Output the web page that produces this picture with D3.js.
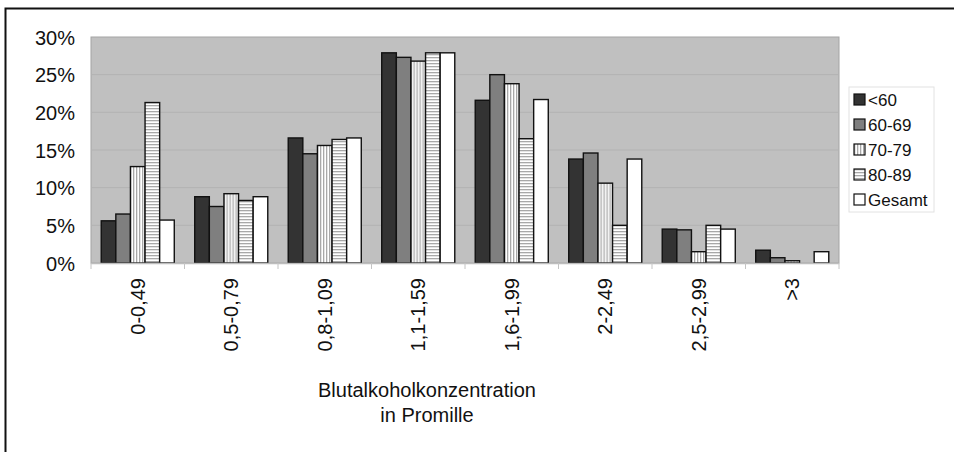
<!DOCTYPE html>
<html>
<head>
<meta charset="utf-8">
<script src="https://cdn.jsdelivr.net/npm/d3@7/dist/d3.min.js"></script>
<style>
  html, body { margin: 0; padding: 0; background: #fff; overflow: hidden; }
  svg { display: block; font-family: "Liberation Sans", Arial, Helvetica, sans-serif; }
</style>
</head>
<body>
<svg id="chart" width="954" height="452"></svg>
<script>
// Blood alcohol concentration classes (per mille)
const categories = ["0-0,49", "0,5-0,79", "0,8-1,09", "1,1-1,59", "1,6-1,99", "2-2,49", "2,5-2,99", ">3"];
// Age groups
const seriesNames = ["<60", "60-69", "70-79", "80-89", "Gesamt"];
// Share of cases per class, in percent
const under60  = [5.6, 8.8, 16.6, 27.9, 21.6, 13.8, 4.5, 1.7];
const age60_69 = [6.5, 7.5, 14.5, 27.3, 25.0, 14.6, 4.4, 0.7];
const age70_79 = [12.8, 9.2, 15.6, 26.8, 23.8, 10.6, 1.5, 0.3];
const age80_89 = [21.3, 8.3, 16.4, 27.9, 16.5, 5.0, 5.0, 0.0];
const gesamt   = [5.7, 8.8, 16.6, 27.9, 21.7, 13.8, 4.5, 1.5];
const yTicks = [0, 5, 10, 15, 20, 25, 30];

const seriesValues = [under60, age60_69, age70_79, age80_89, gesamt];
const data = categories.map((c, i) => ({
  cat: c,
  values: seriesNames.map((s, j) => ({ key: s, idx: j, value: seriesValues[j][i] }))
}));

const svg = d3.select("#chart");
const plot = { left: 91, top: 37, right: 839, bottom: 263 };

// Outer frame (left and top edges lie inside the page)
svg.append("path")
  .attr("d", "M5.5,452 V8.5 H954")
  .attr("fill", "none").attr("stroke", "#111").attr("stroke-width", 2);

// Stripe fills
const defs = svg.append("defs");
const vp = defs.append("pattern").attr("id", "vstripe")
  .attr("patternUnits", "userSpaceOnUse").attr("width", 3).attr("height", 3);
vp.append("rect").attr("width", 3).attr("height", 3).attr("fill", "#fff");
vp.append("rect").attr("x", 0).attr("width", 1.3).attr("height", 3).attr("fill", "#a8a8a8");
const hp = defs.append("pattern").attr("id", "hstripe")
  .attr("patternUnits", "userSpaceOnUse").attr("width", 3).attr("height", 3);
hp.append("rect").attr("width", 3).attr("height", 3).attr("fill", "#fff");
hp.append("rect").attr("y", 0).attr("width", 3).attr("height", 1.3).attr("fill", "#a8a8a8");

const fills = ["#333333", "#7f7f7f", "url(#vstripe)", "url(#hstripe)", "#ffffff"];

const x0 = d3.scaleBand().domain(categories).range([plot.left, plot.right]).paddingInner(0).paddingOuter(0);
const x1 = d3.scaleBand().domain(seriesNames).range([0, x0.bandwidth()]).paddingOuter(0.7).paddingInner(0);
const y = d3.scaleLinear().domain([0, 30]).range([plot.bottom, plot.top]);

// Plot background
svg.append("rect")
  .attr("x", plot.left).attr("y", plot.top)
  .attr("width", plot.right - plot.left).attr("height", plot.bottom - plot.top)
  .attr("fill", "#c0c0c0").attr("stroke", "#a4a4a4").attr("stroke-width", 1);

// Gridlines
svg.append("g").selectAll("line")
  .data(yTicks.filter(t => t > 0 && t < 30))
  .join("line")
  .attr("x1", plot.left).attr("x2", plot.right)
  .attr("y1", d => y(d)).attr("y2", d => y(d))
  .attr("stroke", "#b2b2b2").attr("stroke-width", 1);

// Y axis labels
const yAxis = d3.axisLeft(y).tickValues(yTicks).tickFormat(d => d + "%").tickSize(0).tickPadding(16);
const yg = svg.append("g").attr("transform", `translate(${plot.left},0)`).call(yAxis);
yg.select(".domain").remove();
yg.selectAll("text").attr("font-size", 20).attr("fill", "#111").attr("dy", "0.36em")
  .attr("font-family", "'Liberation Sans', Arial, sans-serif");

// Bars
const groups = svg.append("g").selectAll("g")
  .data(data).join("g")
  .attr("transform", d => `translate(${x0(d.cat)},0)`);
groups.selectAll("rect")
  .data(d => d.values.filter(v => v.value > 0))
  .join("rect")
  .attr("x", v => x1(v.key))
  .attr("y", v => y(v.value))
  .attr("width", x1.bandwidth())
  .attr("height", v => y(0) - y(v.value))
  .attr("fill", v => fills[v.idx])
  .attr("stroke", "#111").attr("stroke-width", 1.4);

// X axis: baseline and category separators
const xg = svg.append("g");
xg.append("line")
  .attr("x1", plot.left).attr("x2", plot.right)
  .attr("y1", plot.bottom + 0.5).attr("y2", plot.bottom + 0.5)
  .attr("stroke", "#bdbdbd").attr("stroke-width", 1.5);
xg.selectAll("line.sep")
  .data(d3.range(categories.length + 1))
  .join("line").attr("class", "sep")
  .attr("x1", i => plot.left + i * x0.bandwidth()).attr("x2", i => plot.left + i * x0.bandwidth())
  .attr("y1", plot.bottom).attr("y2", plot.bottom + 6)
  .attr("stroke", "#c4c4c4").attr("stroke-width", 1);

// Rotated category labels
xg.selectAll("text.cat")
  .data(categories).join("text").attr("class", "cat")
  .attr("transform", d => `translate(${x0(d) + x0.bandwidth() / 2 + 7},278) rotate(-90)`)
  .attr("text-anchor", "end")
  .attr("font-size", 20).attr("fill", "#111")
  .text(d => d);

// Axis title
const title = svg.append("text")
  .attr("text-anchor", "middle").attr("font-size", 20).attr("fill", "#111");
title.append("tspan").attr("x", 427).attr("y", 397).text("Blutalkoholkonzentration");
title.append("tspan").attr("x", 427).attr("y", 422).text("in Promille");

// Legend
const lg = svg.append("g").attr("transform", "translate(849,87)");
lg.append("rect").attr("width", 85).attr("height", 125)
  .attr("fill", "#fff").attr("stroke", "#e2e2e2").attr("stroke-width", 1);
const items = lg.selectAll("g.item").data(seriesNames).join("g").attr("class", "item")
  .attr("transform", (d, i) => `translate(5,${13 + i * 25})`);
items.append("rect")
  .attr("x", 0).attr("y", -6).attr("width", 11).attr("height", 11)
  .attr("fill", (d, i) => fills[i]).attr("stroke", "#111").attr("stroke-width", 1.2);
items.append("text")
  .attr("x", 14).attr("y", 0).attr("dy", "0.36em")
  .attr("font-size", 17).attr("fill", "#111")
  .text(d => d);
</script>
</body>
</html>
